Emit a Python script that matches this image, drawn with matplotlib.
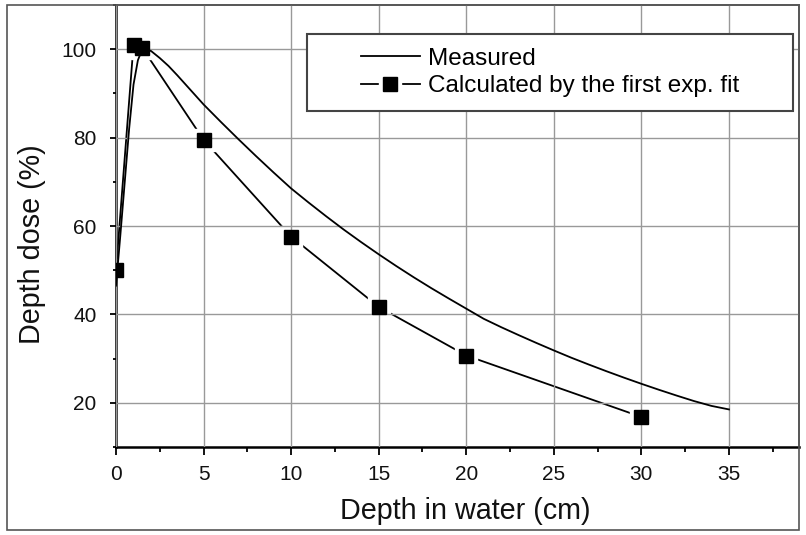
import matplotlib
matplotlib.use('Agg')
import matplotlib.pyplot as plt
from matplotlib.patches import Rectangle
from matplotlib.legend_handler import HandlerTuple
from matplotlib.lines import Line2D
from matplotlib.ticker import MultipleLocator

plt.rcParams['font.family'] = ['Liberation Sans', 'DejaVu Sans']

# ---- data ----
measured_depth = [0, 0.25, 0.5, 0.75, 1.0, 1.25, 1.5, 2, 2.5, 3, 3.5, 4, 4.5,
                  5, 6, 7, 8, 9, 10, 11, 12, 13, 14, 15, 16, 17, 18, 19, 20,
                  21, 22, 23, 24, 25, 26, 27, 28, 29, 30, 31, 32, 33, 34, 35]
measured_dose = [46.5, 58, 70, 82, 92, 97.5, 100, 99.6, 98, 96.2, 94.1, 91.9,
                 89.7, 87.5, 83.5, 79.6, 75.8, 72.1, 68.5, 65.3, 62.2, 59.2,
                 56.35, 53.6, 50.95, 48.4, 45.95, 43.6, 41.3, 39.0, 37.1,
                 35.3, 33.55, 31.85, 30.2, 28.65, 27.15, 25.7, 24.3, 22.95,
                 21.65, 20.4, 19.3, 18.5]

calc_depth = [0, 1, 1.5, 5, 10, 15, 20, 30]
calc_dose = [50, 101, 100.3, 79.5, 57.6, 41.7, 30.7, 16.8]

x_ticks = [0, 5, 10, 15, 20, 25, 30, 35]
y_ticks = [20, 40, 60, 80, 100]
x_label = 'Depth in water (cm)'
y_label = 'Depth dose (%)'
legend_labels = ['Measured', 'Calculated by the first exp. fit']

# ---- figure ----
W, H = 806, 535
fig = plt.figure(figsize=(W / 100, H / 100), dpi=100)
ax = fig.add_axes([116 / W, 88 / H, 683 / W, 442 / H])

# outer frame
fig.patches.append(Rectangle((7 / W, 5 / H), 792 / W, 525 / H,
                             transform=fig.transFigure, fill=False,
                             edgecolor='#555555', lw=1.2))

ax.set_xlim(0, 39)
ax.set_ylim(10, 110)

ax.set_axisbelow(False)
ax.grid(True, which='major', color='#999999', lw=1.0)

# measured curve
meas_line, = ax.plot(measured_depth, measured_dose, color='black', lw=1.3,
                     zorder=2.6)
# calculated line with gaps around symbols
calc_line, = ax.plot(calc_depth, calc_dose, color='black', lw=1.3, zorder=1.5)
halo, = ax.plot(calc_depth, calc_dose, ls='none', marker='s', ms=15.5,
                mfc='white', mec='white', zorder=2)
marks, = ax.plot(calc_depth, calc_dose, ls='none', marker='s', ms=10.5,
                 mfc='black', mec='black', zorder=3)

ax.set_xticks(x_ticks)
ax.set_yticks(y_ticks)
ax.xaxis.set_minor_locator(MultipleLocator(2.5))
ax.yaxis.set_minor_locator(MultipleLocator(10))

ax.tick_params(axis='both', which='major', labelsize=15, colors='black',
               labelcolor='#111111')
ax.tick_params(axis='x', which='major', direction='out', length=6, width=1.3,
               pad=7)
ax.tick_params(axis='x', which='minor', direction='out', length=3.5, width=1.3)
ax.tick_params(axis='y', which='major', direction='out', length=4, width=1.3,
               pad=10)
ax.tick_params(axis='y', which='minor', direction='out', length=2.5, width=1.3)

for s in ('left', 'bottom'):
    ax.spines[s].set_linewidth(1.8)
    ax.spines[s].set_color('black')
for s in ('top', 'right'):
    ax.spines[s].set_linewidth(1.2)
    ax.spines[s].set_color('#555555')

ax.set_xlabel(x_label, fontsize=20.7, color='#111111')
ax.set_ylabel(y_label, fontsize=20.7, color='#111111')
ax.xaxis.set_label_coords(0.511, -0.113)
ax.yaxis.set_label_coords(-0.1025, 0.459)

# legend frame
ax.add_patch(Rectangle((0.2797, 0.760), 0.7115, 0.174, transform=ax.transAxes,
                       facecolor='white', edgecolor='#444444', lw=1.5,
                       zorder=4, clip_on=False))
h_meas = Line2D([], [], color='black', lw=1.3)
h_line = Line2D([], [], color='black', lw=1.3)
h_halo = Line2D([], [], ls='none', marker='s', ms=15.5, mfc='white', mec='white')
h_mark = Line2D([], [], ls='none', marker='s', ms=10.5, mfc='black', mec='black')
leg = ax.legend([h_meas, (h_line, h_halo, h_mark)], legend_labels,
                handler_map={tuple: HandlerTuple(ndivide=1)},
                loc='center', bbox_to_anchor=(0.635, 0.847), frameon=False,
                fontsize=17.5, handlelength=2.45, handletextpad=0.3,
                labelspacing=0.22, numpoints=1, borderpad=0.2)
leg.set_zorder(5)

fig.savefig('out.png', dpi=100)
